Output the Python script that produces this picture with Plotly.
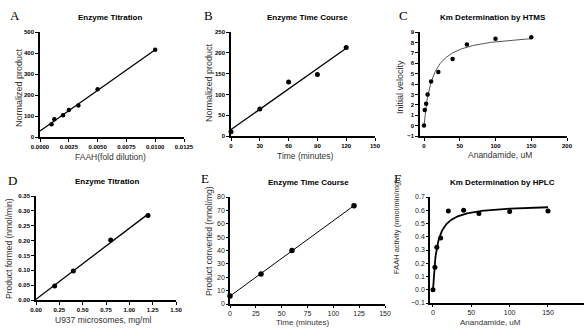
import numpy as np
import plotly.graph_objects as go

# ---------------- data ----------------
a_x = [0.001, 0.00125, 0.002, 0.0025, 0.00333, 0.005, 0.01]
a_y = [61, 85, 104, 129, 150, 227, 415]

b_x = [0, 30, 60, 90, 120]
b_y = [10, 65, 130, 148, 213]

c_x = [0, 1, 3, 5, 10, 20, 40, 60, 100, 150]
c_y = [0, 1.5, 2.1, 3.0, 4.25, 5.15, 6.4, 7.8, 8.35, 8.5]

d_x = [0.2, 0.4, 0.8, 1.2]
d_y = [0.047, 0.098, 0.202, 0.284]

e_x = [0, 30, 60, 120]
e_y = [6, 22.5, 40, 73.5]

f_x = [0, 2.5, 5, 10, 20, 40, 60, 100, 150]
f_y = [0, 0.17, 0.32, 0.39, 0.595, 0.60, 0.575, 0.59, 0.595]

titles = ["Enzyme Titration", "Enzyme Time Course", "Km Determination by HTMS",
          "Enzyme Titration", "Enzyme Time Course", "Km Determination by HPLC"]
letters = ["A", "B", "C", "D", "E", "F"]
x_titles = ["FAAH(fold dilution)", "Time (minutes)", "Anandamide, uM",
            "U937 microsomes, mg/ml", "Time (minutes)", "Anandamide, uM"]
y_titles = ["Normalized product", "Normalized product", "Initial velocity",
            "Product formed (nmol/min)", "Product converted (nmol/mg)",
            "FAAH activity (nmol/min/mg)"]


# ---------------- fits ----------------
def lin_fit(x, y, x0, x1):
    m, b = np.polyfit(x, y, 1)
    xs = np.array([x0, x1])
    return xs, m * xs + b


def mm_fit(x, y, x1):
    x = np.asarray(x, float)
    y = np.asarray(y, float)
    best = None
    for km in np.linspace(0.5, 60, 2000):
        f = x / (km + x)
        vm = (y * f).sum() / (f * f).sum()
        err = ((y - vm * f) ** 2).sum()
        if best is None or err < best[0]:
            best = (err, km, vm)
    _, km, vm = best
    xs = np.linspace(0, x1, 300)
    return xs, vm * xs / (km + xs)


W, H = 584, 328

# panel pixel boxes: (x0, x1, ytop, ybottom)
boxes = [
    (40, 184, 32, 137),
    (231, 375, 32, 136),
    (420, 567, 32, 136),
    (36, 176, 196, 300),
    (230, 385, 197, 304),
    (430, 584, 197, 303),
]

fig = go.Figure()

series = [
    (a_x, a_y, lin_fit(a_x, a_y, 0, 0.01), "black", 1.3, 4.5),
    (b_x, b_y, lin_fit(b_x, b_y, 0, 120), "black", 1.3, 5),
    (c_x, c_y, mm_fit(c_x, c_y, 150), "#555555", 1.0, 4.5),
    (d_x, d_y, lin_fit(d_x, d_y, 0, 1.2), "black", 1.3, 5),
    (e_x, e_y, lin_fit(e_x, e_y, 0, 120), "black", 1.0, 5.5),
    (f_x, f_y, mm_fit(f_x, f_y, 150), "black", 1.8, 5),
]

for i, (px, py, (lx, ly), lc, lw, ms) in enumerate(series):
    xa = "x" if i == 0 else f"x{i+1}"
    ya = "y" if i == 0 else f"y{i+1}"
    fig.add_trace(go.Scatter(x=lx, y=ly, mode="lines", xaxis=xa, yaxis=ya,
                             line=dict(color=lc, width=lw), cliponaxis=False,
                             showlegend=False, hoverinfo="skip"))
    fig.add_trace(go.Scatter(x=px, y=py, mode="markers", xaxis=xa, yaxis=ya,
                             marker=dict(color="black", size=ms), cliponaxis=False,
                             showlegend=False))

x_specs = [
    dict(range=[0, 0.0125], tickvals=[0, 0.0025, 0.005, 0.0075, 0.01, 0.0125], tickformat=".4f"),
    dict(range=[0, 150], tickvals=[0, 30, 60, 90, 120, 150]),
    dict(range=[-5.6, 200], tickvals=[0, 50, 100, 150, 200]),
    dict(range=[0, 1.5], tickvals=[0, 0.25, 0.5, 0.75, 1.0, 1.25, 1.5], tickformat=".2f"),
    dict(range=[0, 150], tickvals=[0, 25, 50, 75, 100, 125, 150]),
    dict(range=[-3.9, 197], tickvals=[0, 50, 100, 150, 200]),
]
y_specs = [
    dict(range=[0, 500], tickvals=[0, 100, 200, 300, 400, 500]),
    dict(range=[0, 250], tickvals=[0, 50, 100, 150, 200, 250]),
    dict(range=[-1, 9], tickvals=list(range(-1, 10))),
    dict(range=[0, 0.35], tickvals=[0, 0.05, 0.1, 0.15, 0.2, 0.25, 0.3, 0.35], tickformat=".2f"),
    dict(range=[0, 80], tickvals=[0, 10, 20, 30, 40, 50, 60, 70, 80]),
    dict(range=[-0.1, 0.7], tickvals=[-0.1, 0, 0.1, 0.2, 0.3, 0.4, 0.5, 0.6, 0.7], tickformat=".1f"),
]

small_tick = dict(family="Liberation Sans, Arial, sans-serif", size=6, color="black", weight="bold")
big_tick = dict(family="Liberation Sans, Arial, sans-serif", size=7, color="#222222")

layout = {}
for i, (x0, x1, yt, yb) in enumerate(boxes):
    xn = "xaxis" if i == 0 else f"xaxis{i+1}"
    yn = "yaxis" if i == 0 else f"yaxis{i+1}"
    xa = "x" if i == 0 else f"x{i+1}"
    ya = "y" if i == 0 else f"y{i+1}"
    tf = big_tick if i >= 4 else small_tick
    common = dict(showgrid=False, zeroline=False, showline=True, linecolor="black",
                  linewidth=1.5, ticks="outside", ticklen=3 if i < 4 else 2, tickwidth=1,
                  tickcolor="black", tickfont=tf, fixedrange=True, automargin=False)
    layout[xn] = dict(domain=[x0 / W, min(x1 / W, 1)], anchor=ya, **common, **x_specs[i])
    layout[yn] = dict(domain=[(H - yb) / H, (H - yt) / H], anchor=xa, **common, **y_specs[i])

fig.update_layout(**layout)

# annotations: letters, titles, axis titles
letter_pos = [(15, 15), (208, 15), (403, 15), (12, 180), (205, 178), (398, 178)]
title_pos = [(110, 17), (307, 17), (493, 17), (107, 181), (308, 182), (503, 182)]
xt_pos = [(110, 157), (305, 156), (500, 155), (103, 320), (302, 322), (490, 322)]
xt_size = [8.5, 8.5, 8.5, 8.5, 8, 8]
yt_pos = [(19, 88), (209, 83), (400, 87), (9, 249), (209, 241), (397, 227)]
yt_size = [9, 9, 9, 8.5, 8.5, 7.5]

anns = []
for i in range(6):
    lx, ly = letter_pos[i]
    anns.append(dict(x=lx / W, y=1 - ly / H, xref="paper", yref="paper", text=letters[i],
                     showarrow=False, xanchor="center", yanchor="middle",
                     font=dict(family="Liberation Serif, Times New Roman, serif", size=13, color="black")))
    tx, ty = title_pos[i]
    anns.append(dict(x=tx / W, y=1 - ty / H, xref="paper", yref="paper", text=titles[i],
                     showarrow=False, xanchor="center", yanchor="middle",
                     font=dict(family="Liberation Sans, Arial, sans-serif", size=8, color="black", weight="bold")))
    ax, ay = xt_pos[i]
    anns.append(dict(x=ax / W, y=1 - ay / H, xref="paper", yref="paper", text=x_titles[i],
                     showarrow=False, xanchor="center", yanchor="middle", borderpad=0,
                     font=dict(family="Liberation Sans, Arial, sans-serif", size=xt_size[i], color="#333333")))
    bx, by = yt_pos[i]
    anns.append(dict(x=bx / W, y=1 - by / H, xref="paper", yref="paper", text=y_titles[i],
                     showarrow=False, xanchor="center", yanchor="middle", textangle=-90,
                     font=dict(family="Liberation Sans, Arial, sans-serif", size=yt_size[i], color="#333333")))

fig.update_layout(annotations=anns, width=W, height=H,
                  margin=dict(l=0, r=0, t=0, b=0, autoexpand=False),
                  paper_bgcolor="white", plot_bgcolor="white")

fig.write_html("out.html", config={"displayModeBar": False},
               post_script="document.body.style.margin='0px';document.body.style.overflow='hidden';")
